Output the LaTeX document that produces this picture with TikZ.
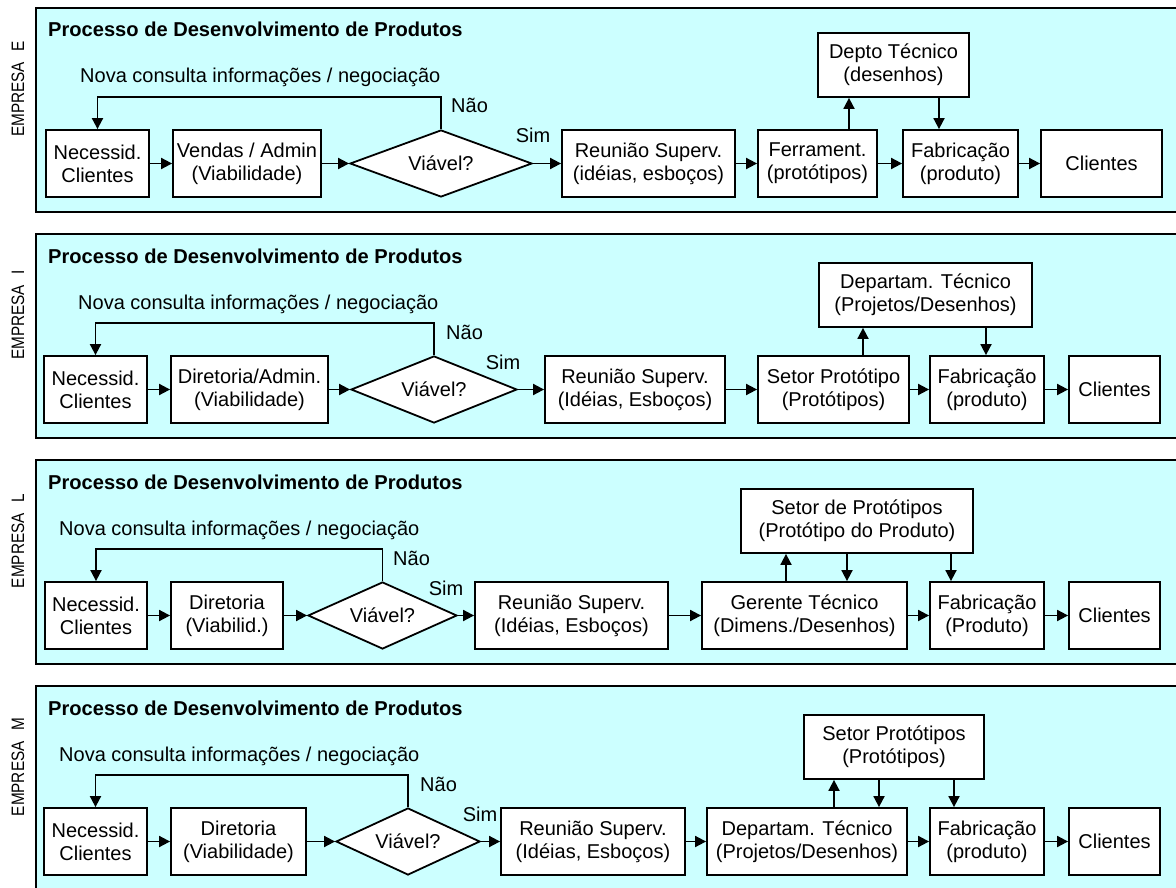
\documentclass[tikz,border=0pt]{standalone}
\usepackage{fontspec}
\setmainfont{Liberation Sans}
\newfontfamily\lanefont{Liberation Sans}[FakeStretch=0.85]
\usetikzlibrary{shapes.geometric,arrows.meta}
\definecolor{lanecyan}{HTML}{CCFFFF}
\tikzset{
  stage/.style={draw, line width=1.8pt, fill=white, align=center, inner sep=0pt,
                minimum height=67pt, font=\fontsize{20}{23}\selectfont},
  upper/.style={stage, minimum height=64pt},
  decision/.style={draw, line width=1.8pt, fill=white, diamond, inner sep=0pt,
                   minimum height=67pt},
  flow/.style={line width=1.8pt, -{Triangle[length=11pt,width=11pt]}},
  lane/.style={draw, line width=1.9pt, fill=lanecyan},
  heading/.style={anchor=base west, inner sep=0pt, font=\bfseries\fontsize{20.1}{23}\selectfont},
  txt/.style={inner sep=0pt, font=\fontsize{20}{23}\selectfont},
  company/.style={rotate=90, inner sep=0pt, font=\lanefont\fontsize{18}{20}\selectfont},
}
\begin{document}
\begin{tikzpicture}[x=1pt,y=-1pt]
\useasboundingbox (0,0) rectangle (1176,888);

% ---------------- Empresa E ----------------
\begin{scope}
\draw[lane] (36,8) rectangle (1182,212);
\node[company] (a-co) at (18,89) {EMPRESA\hspace{0.6em}E};
\node[heading] (a-title) at (48,37) {Processo de Desenvolvimento de Produtos};
\node[txt, anchor=base west] (a-nova) at (80,83) {Nova consulta informações / negociação};
\node[stage, minimum width=103] (a-nec) at (97.5,163.5) {Necessid.\\Clientes};
\node[stage, minimum width=148] (a-adm) at (247,163.5) {Vendas / Admin\\(Viabilidade)};
\node[decision, minimum width=182, label={[txt]center:Viável?}] (a-dec) at (441,163.5) {};
\node[stage, minimum width=173] (a-reu) at (648.5,163.5) {Reunião Superv.\\(idéias, esboços)};
\node[stage, minimum width=119] (a-fer) at (817.5,163.5) {Ferrament.\\(protótipos)};
\node[upper, minimum width=151] (a-tec) at (893.5,65) {Depto Técnico\\(desenhos)};
\node[stage, minimum width=115] (a-fab) at (960.5,163.5) {Fabricação\\(produto)};
\node[stage, minimum width=121] (a-cli) at (1101.5,163.5) {Clientes};
\node[txt, anchor=base west] (a-nao) at (451,113) {Não};
\node[txt, anchor=base] (a-sim) at (533,143) {Sim};
\coordinate (a-loop) at (0,97);
\coordinate (a-up) at (849,0);
\coordinate (a-dn) at (939,0);
\draw[flow] (a-dec.north) |- (a-nec.north |- a-loop) -- (a-nec.north);
\draw[flow] (a-nec) -- (a-adm);
\draw[flow] (a-adm) -- (a-dec);
\draw[flow] (a-dec) -- (a-reu);
\draw[flow] (a-reu) -- (a-fer);
\draw[flow] (a-fer) -- (a-fab);
\draw[flow] (a-fab) -- (a-cli);
\draw[flow] (a-fer.north -| a-up) -- (a-tec.south -| a-up);
\draw[flow] (a-tec.south -| a-dn) -- (a-fab.north -| a-dn);
\end{scope}

% ---------------- Empresa I ----------------
\begin{scope}[yshift=-226pt]
\draw[lane] (36,8) rectangle (1182,212);
\node[company] (b-co) at (18,89) {EMPRESA\hspace{0.6em}I};
\node[heading] (b-title) at (48,37) {Processo de Desenvolvimento de Produtos};
\node[txt, anchor=base west] (b-nova) at (78,83) {Nova consulta informações / negociação};
\node[stage, minimum width=103] (b-nec) at (95.5,163.5) {Necessid.\\Clientes};
\node[stage, minimum width=157] (b-adm) at (249.5,163.5) {Diretoria/Admin.\\(Viabilidade)};
\node[decision, minimum width=166, label={[txt]center:Viável?}] (b-dec) at (434,163.5) {};
\node[stage, minimum width=180] (b-reu) at (635,163.5) {Reunião Superv.\\(Idéias, Esboços)};
\node[stage, minimum width=151] (b-pro) at (833.5,163.5) {Setor Protótipo\\(Protótipos)};
\node[upper, minimum width=213] (b-tec) at (925.5,69) {Departam. Técnico\\(Projetos/Desenhos)};
\node[stage, minimum width=114] (b-fab) at (987,163.5) {Fabricação\\(produto)};
\node[stage, minimum width=91] (b-cli) at (1114.5,163.5) {Clientes};
\node[txt, anchor=base west] (b-nao) at (446,113) {Não};
\node[txt, anchor=base] (b-sim) at (503,143) {Sim};
\coordinate (b-loop) at (0,97);
\coordinate (b-up) at (863,0);
\coordinate (b-dn) at (986,0);
\draw[flow] (b-dec.north) |- (b-nec.north |- b-loop) -- (b-nec.north);
\draw[flow] (b-nec) -- (b-adm);
\draw[flow] (b-adm) -- (b-dec);
\draw[flow] (b-dec) -- (b-reu);
\draw[flow] (b-reu) -- (b-pro);
\draw[flow] (b-pro) -- (b-fab);
\draw[flow] (b-fab) -- (b-cli);
\draw[flow] (b-pro.north -| b-up) -- (b-tec.south -| b-up);
\draw[flow] (b-tec.south -| b-dn) -- (b-fab.north -| b-dn);
\end{scope}

% ---------------- Empresa L ----------------
\begin{scope}[yshift=-452pt]
\draw[lane] (36,8) rectangle (1182,212);
\node[company] (c-co) at (18,89) {EMPRESA\hspace{0.6em}L};
\node[heading] (c-title) at (48,37) {Processo de Desenvolvimento de Produtos};
\node[txt, anchor=base west] (c-nova) at (59,83) {Nova consulta informações / negociação};
\node[stage, minimum width=102] (c-nec) at (96,163.5) {Necessid.\\Clientes};
\node[stage, minimum width=112] (c-adm) at (227,163.5) {Diretoria\\(Viabilid.)};
\node[decision, minimum width=149, label={[txt]center:Viável?}] (c-dec) at (382.5,163.5) {};
\node[stage, minimum width=193] (c-reu) at (571.5,163.5) {Reunião Superv.\\(Idéias, Esboços)};
\node[stage, minimum width=205] (c-ger) at (804.5,163.5) {Gerente Técnico\\(Dimens./Desenhos)};
\node[upper, minimum width=232] (c-pro) at (857,69) {Setor de Protótipos\\(Protótipo do Produto)};
\node[stage, minimum width=114] (c-fab) at (987,163.5) {Fabricação\\(Produto)};
\node[stage, minimum width=91] (c-cli) at (1114.5,163.5) {Clientes};
\node[txt, anchor=base west] (c-nao) at (393,113) {Não};
\node[txt, anchor=base] (c-sim) at (446,143) {Sim};
\coordinate (c-loop) at (0,97);
\coordinate (c-up) at (786,0);
\coordinate (c-dn) at (847,0);
\coordinate (c-fd) at (951,0);
\draw[flow] (c-dec.north) |- (c-nec.north |- c-loop) -- (c-nec.north);
\draw[flow] (c-nec) -- (c-adm);
\draw[flow] (c-adm) -- (c-dec);
\draw[flow] (c-dec) -- (c-reu);
\draw[flow] (c-reu) -- (c-ger);
\draw[flow] (c-ger) -- (c-fab);
\draw[flow] (c-fab) -- (c-cli);
\draw[flow] (c-ger.north -| c-up) -- (c-pro.south -| c-up);
\draw[flow] (c-pro.south -| c-dn) -- (c-ger.north -| c-dn);
\draw[flow] (c-pro.south -| c-fd) -- (c-fab.north -| c-fd);
\end{scope}

% ---------------- Empresa M ----------------
\begin{scope}[yshift=-678pt]
\draw[lane] (36,8) rectangle (1182,214);
\node[company] (d-co) at (18,89) {EMPRESA\hspace{0.6em}M};
\node[heading] (d-title) at (48,37) {Processo de Desenvolvimento de Produtos};
\node[txt, anchor=base west] (d-nova) at (59,83) {Nova consulta informações / negociação};
\node[stage, minimum width=103] (d-nec) at (95.5,163.5) {Necessid.\\Clientes};
\node[stage, minimum width=135] (d-adm) at (238.5,163.5) {Diretoria\\(Viabilidade)};
\node[decision, minimum width=144, label={[txt]center:Viável?}] (d-dec) at (408,163.5) {};
\node[stage, minimum width=184] (d-reu) at (593,163.5) {Reunião Superv.\\(Idéias, Esboços)};
\node[stage, minimum width=200] (d-tec) at (807,163.5) {Departam. Técnico\\(Projetos/Desenhos)};
\node[upper, minimum width=180] (d-pro) at (894,69) {Setor Protótipos\\(Protótipos)};
\node[stage, minimum width=114] (d-fab) at (987,163.5) {Fabricação\\(produto)};
\node[stage, minimum width=91] (d-cli) at (1114.5,163.5) {Clientes};
\node[txt, anchor=base west] (d-nao) at (420,113) {Não};
\node[txt, anchor=base] (d-sim) at (480,143) {Sim};
\coordinate (d-loop) at (0,97);
\coordinate (d-up) at (834,0);
\coordinate (d-dn) at (879,0);
\coordinate (d-fd) at (954,0);
\draw[flow] (d-dec.north) |- (d-nec.north |- d-loop) -- (d-nec.north);
\draw[flow] (d-nec) -- (d-adm);
\draw[flow] (d-adm) -- (d-dec);
\draw[flow] (d-dec) -- (d-reu);
\draw[flow] (d-reu) -- (d-tec);
\draw[flow] (d-tec) -- (d-fab);
\draw[flow] (d-fab) -- (d-cli);
\draw[flow] (d-tec.north -| d-up) -- (d-pro.south -| d-up);
\draw[flow] (d-pro.south -| d-dn) -- (d-tec.north -| d-dn);
\draw[flow] (d-pro.south -| d-fd) -- (d-fab.north -| d-fd);
\end{scope}
\end{tikzpicture}
\end{document}
